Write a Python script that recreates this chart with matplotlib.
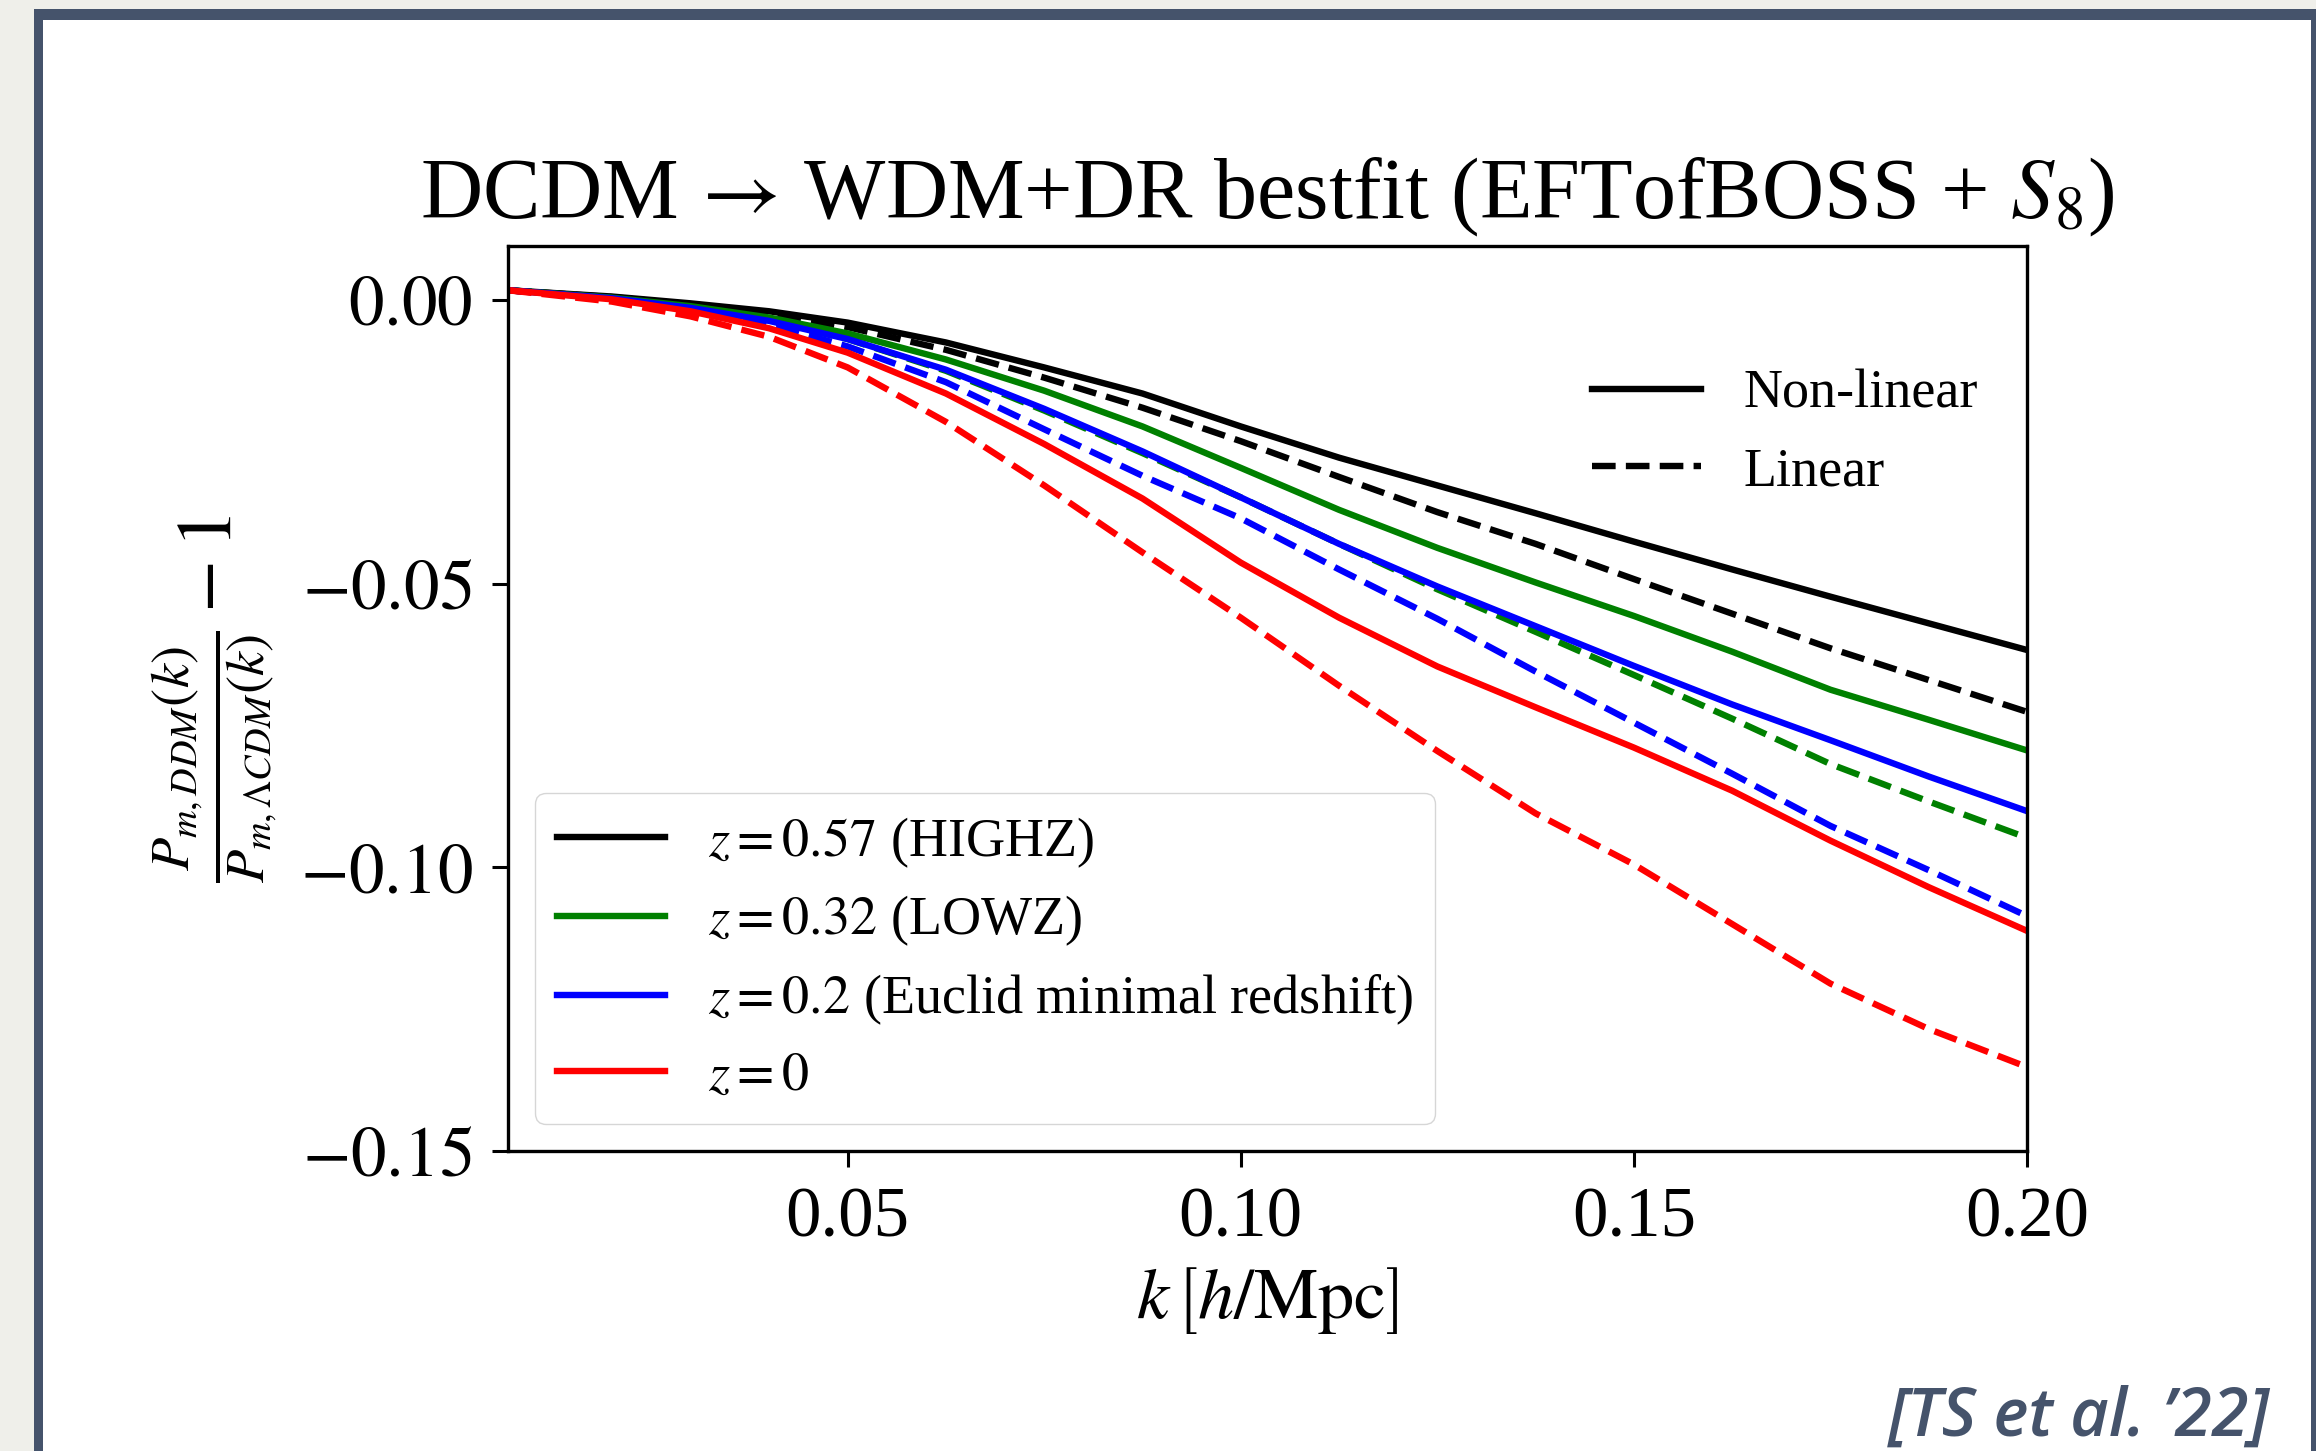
import matplotlib
matplotlib.use('Agg')
import matplotlib.pyplot as plt
from matplotlib.lines import Line2D
from matplotlib.patches import Rectangle
import numpy as np

# k grid [h/Mpc] and ratios P_DDM/P_LCDM - 1
k = np.array([0.0068, 0.02, 0.03, 0.04, 0.05, 0.0625, 0.075, 0.0875, 0.10,
              0.1125, 0.125, 0.1375, 0.15, 0.1625, 0.175, 0.1875, 0.20])

highz_nl = np.array([1.7, 0.6, -0.6, -2.0, -4.0, -7.5, -11.9, -16.5, -22.3,
                     -27.8, -32.7, -37.6, -42.6, -47.5, -52.3, -57.0, -61.7]) * 1e-3
highz_lin = np.array([1.7, 0.5, -0.8, -2.5, -4.8, -8.8, -13.7, -19.0, -24.9,
                      -31.2, -37.4, -43.0, -49.2, -55.3, -61.4, -67.0, -72.6]) * 1e-3
lowz_nl = np.array([1.7, 0.4, -1.1, -3.1, -5.9, -10.5, -16.0, -22.3, -29.6,
                    -37.0, -43.7, -49.8, -55.7, -62.0, -68.7, -74.0, -79.4]) * 1e-3
lowz_lin = np.array([1.7, 0.3, -1.4, -3.7, -6.9, -12.5, -19.5, -27.0, -34.8,
                     -43.0, -51.0, -58.5, -66.1, -73.8, -81.8, -88.4, -94.8]) * 1e-3
euclid_nl = np.array([1.7, 0.3, -1.4, -3.7, -6.9, -12.3, -19.2, -26.7, -34.8,
                      -43.0, -50.5, -57.5, -64.5, -71.3, -77.6, -84.0, -90.1]) * 1e-3
euclid_lin = np.array([1.7, 0.2, -1.7, -4.3, -8.2, -14.5, -22.8, -31.0, -38.5,
                       -47.5, -56.2, -65.5, -74.5, -83.5, -92.7, -100.5, -108.6]) * 1e-3
z0_nl = np.array([1.7, 0.1, -2.0, -5.0, -9.3, -16.5, -25.4, -35.0, -46.3,
                  -56.0, -64.6, -71.8, -78.9, -86.5, -95.3, -103.5, -111.2]) * 1e-3
z0_lin = np.array([1.7, -0.3, -2.9, -6.5, -11.9, -21.5, -32.7, -44.5, -56.0,
                   -68.0, -79.5, -90.5, -99.5, -110.0, -120.5, -128.5, -135.2]) * 1e-3

labels = [r'$z = 0.57$ (HIGHZ)', r'$z = 0.32$ (LOWZ)',
          r'$z = 0.2$ (Euclid minimal redshift)', r'$z = 0$']
colors = ['k', 'g', 'b', 'r']
nonlinear = [highz_nl, lowz_nl, euclid_nl, z0_nl]
linear = [highz_lin, lowz_lin, euclid_lin, z0_lin]

plt.rcParams['font.family'] = ['Liberation Serif', 'DejaVu Serif']
plt.rcParams['mathtext.fontset'] = 'stix'
plt.rcParams['axes.linewidth'] = 2.4

lw = 4.6
slate = '#45536b'

fig = plt.figure(figsize=(23.16, 14.51), dpi=100)
fig.patch.set_facecolor('#efefea')
# slide frame
fig.add_artist(Rectangle((34 / 2316, -0.1), 1.2, 1 - 9 / 1451 + 0.1,
                         transform=fig.transFigure, facecolor=slate,
                         edgecolor='none', zorder=-3))
fig.add_artist(Rectangle((43 / 2316, -0.1), (2311 - 43) / 2316,
                         1 - 20 / 1451 + 0.1, transform=fig.transFigure,
                         facecolor='white', edgecolor='none', zorder=-2))

ax = fig.add_axes([508 / 2316, 300 / 1451, (2027 - 508) / 2316,
                   (1151 - 246) / 1451])
ax.patch.set_alpha(0)

handles = []
for y_nl, y_lin, c, lab in zip(nonlinear, linear, colors, labels):
    h, = ax.plot(k, y_nl, color=c, lw=lw, label=lab)
    ax.plot(k, y_lin, color=c, lw=lw, ls='--')
    handles.append(h)

ax.set_xlim(0.0068, 0.2)
ax.set_ylim(-0.15, 0.0095)
ax.set_xticks([0.05, 0.10, 0.15, 0.20])
ax.set_yticks([0.00, -0.05, -0.10, -0.15])
ax.xaxis.set_major_formatter(matplotlib.ticker.FormatStrFormatter('%.2f'))
ax.yaxis.set_major_formatter(
    matplotlib.ticker.FuncFormatter(lambda v, p: '$%.2f$' % v))
ax.tick_params(labelsize=51, length=11.5, width=2.2, pad=14)

ax.set_title(r'DCDM$\,\rightarrow\,$WDM+DR bestfit (EFTofBOSS + $S_8$)',
             fontsize=62, pad=20)
ax.set_xlabel(r'$k\,\left[h/\mathrm{Mpc}\right]$', fontsize=52, labelpad=10)
ax.set_ylabel(r'$\frac{P_{m,DDM}(k)}{P_{m,\Lambda CDM}(k)} - 1$',
              fontsize=56, labelpad=14)

leg1 = ax.legend(handles=handles, loc='lower left', fontsize=39,
                 labelspacing=0.45, framealpha=0.8, edgecolor='0.8',
                 fancybox=True)
ax.add_artist(leg1)

style_handles = [Line2D([], [], color='k', lw=lw, ls='-'),
                 Line2D([], [], color='k', lw=lw, ls='--')]
ax.legend(handles=style_handles, labels=['Non-linear', 'Linear'],
          loc='upper right', bbox_to_anchor=(1.0, 0.918), fontsize=39,
          frameon=False)

fig.text(2270 / 2316, 1 - 1436 / 1451, '[TS et al. \u201922]',
         fontsize=48, style='italic', weight='semibold', color=slate,
         ha='right', va='baseline', family=['Open Sans', 'Lato', 'DejaVu Sans'])

fig.savefig('out.png', dpi=100, facecolor=fig.get_facecolor())
